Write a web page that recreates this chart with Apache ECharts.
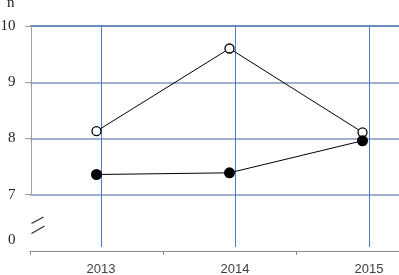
<!DOCTYPE html>
<html>
<head>
<meta charset="utf-8">
<script src="https://cdn.jsdelivr.net/npm/echarts@6/dist/echarts.min.js"></script>
<style>html,body{margin:0;padding:0;background:#fff;}#c{width:399px;height:275px;}</style>
</head>
<body>
<div id="c"></div>
<script>
var years = ['2013', '2014', '2015'];
var openSeries = [8.13, 9.60, 8.11];
var filledSeries = [7.36, 7.39, 7.96];
var yTicks = [6, 7, 8, 9, 10];
var yTickLabels = ['0', '7', '8', '9', '10'];
var yName = 'n';

var chart = echarts.init(document.getElementById('c'), null, {renderer: 'canvas'});
chart.setOption({
  animation: false,
  backgroundColor: '#fff',
  grid: [
    {left: 30, width: 399, top: 26, bottom: 24, outerBoundsMode: 'none', containLabel: false},
    {left: 101, right: 30, top: 26, bottom: 28, outerBoundsMode: 'none', containLabel: false},
    {left: 31, width: 1, top: 26, bottom: 81, outerBoundsMode: 'none', containLabel: false}
  ],
  xAxis: [
    {gridIndex: 0, type: 'category', data: years, boundaryGap: true,
     axisLine: {lineStyle: {color: '#8c8c8c', width: 1}},
     axisTick: {show: true, length: 4, lineStyle: {color: '#8c8c8c'}},
     axisLabel: {show: false}, splitLine: {show: false}},
    {gridIndex: 1, type: 'category', data: years, boundaryGap: false,
     axisLine: {show: false}, axisTick: {show: false},
     axisLabel: {show: true, margin: 16, fontSize: 13, color: '#404040', fontFamily: 'Liberation Sans'},
     splitLine: {show: true, lineStyle: {color: '#4a7fc1', width: 1}}},
    {gridIndex: 2, type: 'value', show: false}
  ],
  yAxis: [
    {gridIndex: 0, type: 'value', min: 6, max: 10, interval: 1,
     axisLine: {show: false}, axisTick: {show: false},
     axisLabel: {show: true, margin: 14.5, fontSize: 15, color: '#222', fontFamily: 'Liberation Serif',
       formatter: function (v) {
         var i = yTicks.indexOf(v);
         var t = i >= 0 ? yTickLabels[i] : '';
         return v === 6 ? '{z|' + t + '}' : t;
       },
       rich: {z: {fontSize: 15, fontFamily: 'Liberation Serif', color: '#222', padding: [0, 0, 22, 0]}}},
     splitLine: {show: true, lineStyle: {color: ['rgba(0,0,0,0)', '#9fb1cc', '#9fb1cc', '#9fb1cc', '#6a8cbc'], width: 2}}},
    {gridIndex: 1, type: 'value', min: 0, max: 1, show: false},
    {gridIndex: 2, type: 'value', min: 7, max: 10, interval: 1,
     axisLine: {show: true, lineStyle: {color: '#a0a0a0', width: 1}},
     axisTick: {show: true, length: 6, lineStyle: {color: '#a0a0a0'}},
     axisLabel: {show: false}, splitLine: {show: false}}
  ],
  graphic: [
    {type: 'text', left: 7, top: -4, style: {text: yName, font: '15px "Liberation Serif"', fill: '#222'}},
    {type: 'line', shape: {x1: 31.5, y1: 223.5, x2: 43.5, y2: 217}, style: {stroke: '#333', lineWidth: 1.3}},
    {type: 'line', shape: {x1: 31.5, y1: 233.5, x2: 44.5, y2: 226}, style: {stroke: '#333', lineWidth: 1.3}}
  ],
  series: [
    {type: 'line', xAxisIndex: 0, yAxisIndex: 0, data: openSeries,
     symbol: 'circle', symbolSize: 9,
     lineStyle: {color: '#000', width: 1},
     itemStyle: {color: '#fff', borderColor: '#000', borderWidth: 1.3}},
    {type: 'line', xAxisIndex: 0, yAxisIndex: 0, data: filledSeries,
     symbol: 'circle', symbolSize: 11,
     lineStyle: {color: '#000', width: 1},
     itemStyle: {color: '#000', borderColor: '#000', borderWidth: 0}}
  ]
});
</script>
</body>
</html>
